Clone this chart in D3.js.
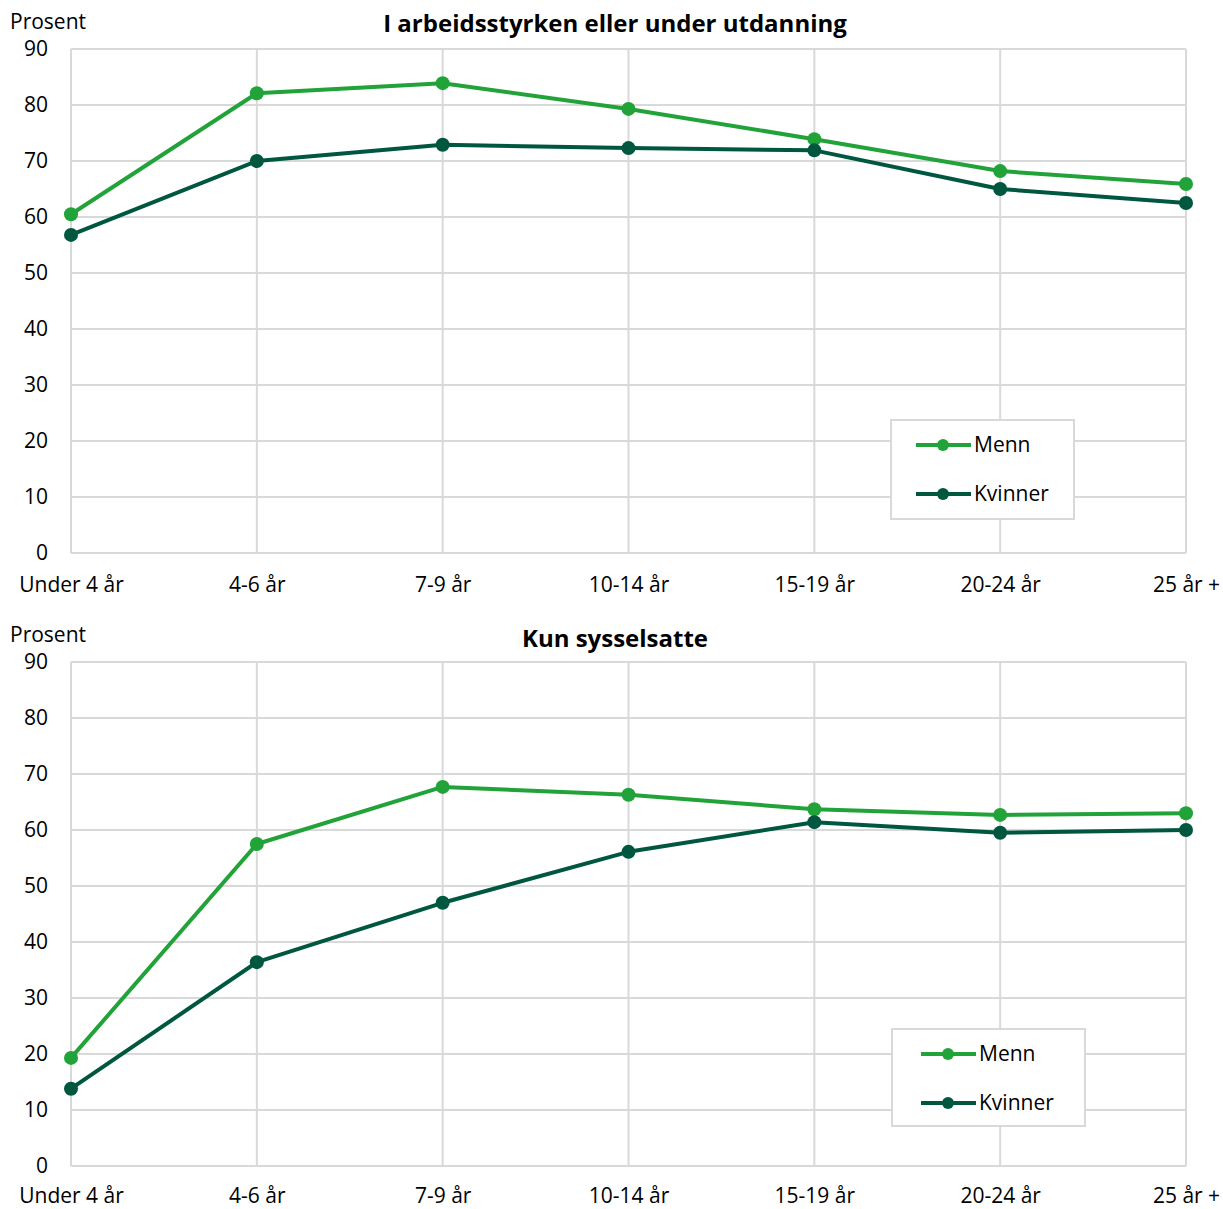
<!DOCTYPE html>
<html><head><meta charset="utf-8">
<script src="https://cdn.jsdelivr.net/npm/d3@7/dist/d3.min.js"></script>
<style>body{margin:0;background:#fff;}svg{display:block;font-family:"Open Sans",sans-serif;}</style>
</head><body><svg id="c" width="1223" height="1209"></svg>
<script>
const categories = ["Under 4 år","4-6 år","7-9 år","10-14 år","15-19 år","20-24 år","25 år +"];
const yTicks = [0,10,20,30,40,50,60,70,80,90];
const seriesNames = ["Menn","Kvinner"];
const colors = ["#22a339","#00573f"];
const titles = ["I arbeidsstyrken eller under utdanning","Kun sysselsatte"];
const topMenn = [60.5,82.1,83.9,79.3,73.9,68.2,65.9];
const topKvinner = [56.8,70.0,72.9,72.3,71.9,65.0,62.5];
const botMenn = [19.3,57.5,67.7,66.3,63.7,62.7,63.0];
const botKvinner = [13.8,36.4,47.0,56.1,61.4,59.5,60.0];

const svg = d3.select("#c");
const x = d3.scalePoint().domain(categories).range([71,1186]);
const FS = 21;

function panel(top, title, data, legendBox, lOff, titleDy, xPad){
  const y = d3.scaleLinear().domain([0,90]).range([top+504, top]);
  const g = svg.append("g");
  g.selectAll(".hg").data(yTicks).join("line")
    .attr("x1",71).attr("x2",1186).attr("y1",d=>y(d)).attr("y2",d=>y(d))
    .attr("stroke","#d9d9d9").attr("stroke-width",2);
  g.selectAll(".vg").data(categories).join("line")
    .attr("x1",d=>x(d)).attr("x2",d=>x(d)).attr("y1",top).attr("y2",top+504)
    .attr("stroke","#d9d9d9").attr("stroke-width",2);
  const ya = g.append("g").attr("transform","translate(48,0)")
    .call(d3.axisLeft(y).tickValues(yTicks).tickSize(0).tickPadding(0));
  ya.select(".domain").remove();
  ya.selectAll("text").attr("font-size",FS).attr("font-family","Open Sans").attr("fill","#000").attr("dy","0.32em");
  const xa = g.append("g").attr("transform",`translate(0,${top+504})`)
    .call(d3.axisBottom(x).tickSize(0).tickPadding(xPad));
  xa.select(".domain").remove();
  xa.selectAll("text").attr("font-size",FS).attr("font-family","Open Sans").attr("fill","#000");
  g.append("text").attr("x",10).attr("y",top-20).text("Prosent").attr("font-size",FS).attr("fill","#000");
  g.append("text").attr("x",615).attr("y",top-18+titleDy).attr("text-anchor","middle")
    .attr("font-weight","bold").attr("font-size",24).attr("fill","#000").text(title);
  const line = d3.line().x((d,i)=>x(categories[i])).y(d=>y(d));
  data.forEach((vals,si)=>{
    g.append("path").attr("d",line(vals)).attr("fill","none")
      .attr("stroke",colors[si]).attr("stroke-width",4).attr("stroke-linejoin","round");
    g.selectAll(".pt"+si).data(vals).join("circle")
      .attr("cx",(d,i)=>x(categories[i])).attr("cy",d=>y(d)).attr("r",7).attr("fill",colors[si]);
  });
  const [lx,ly,lw,lh] = legendBox;
  const lg = g.append("g");
  lg.append("rect").attr("x",lx).attr("y",ly).attr("width",lw).attr("height",lh)
    .attr("fill","#fff").attr("stroke","#d9d9d9").attr("stroke-width",2);
  seriesNames.forEach((n,i)=>{
    const yy = ly + 25 + i*49;
    lg.append("line").attr("x1",lx+lOff).attr("x2",lx+lOff+55).attr("y1",yy).attr("y2",yy)
      .attr("stroke",colors[i]).attr("stroke-width",4);
    lg.append("circle").attr("cx",lx+lOff+27).attr("cy",yy).attr("r",6).attr("fill",colors[i]);
    lg.append("text").attr("x",lx+lOff+58).attr("y",yy).attr("dy","0.35em").attr("font-size",FS).attr("fill","#000").text(n);
  });
}
panel(49, titles[0], [topMenn, topKvinner], [891,420,183,99], 25, 1, 24);
panel(662, titles[1], [botMenn, botKvinner], [892,1029,193,97], 29, 3, 22);
</script></body></html>
